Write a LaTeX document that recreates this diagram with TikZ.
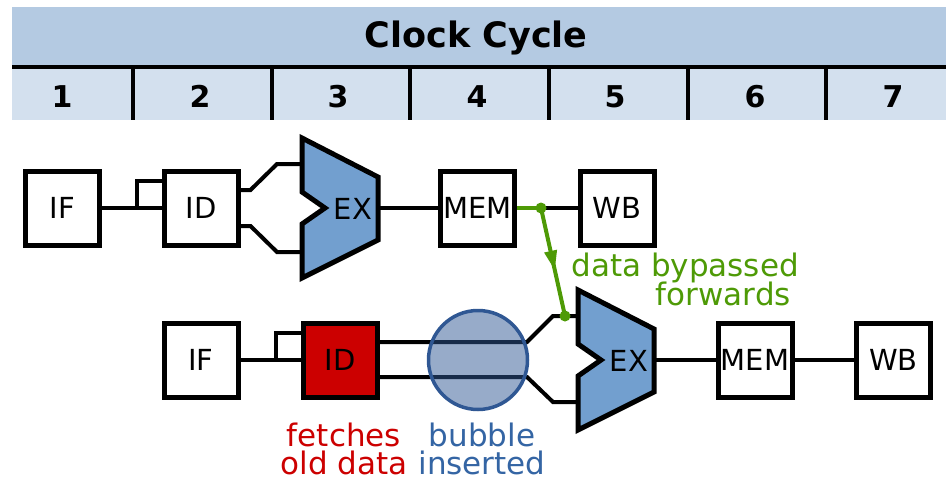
\documentclass[tikz,border=0pt]{standalone}
\usepackage{fontspec}
\setmainfont{DejaVu Sans}
\usetikzlibrary{arrows.meta,decorations.markings,calc}
\definecolor{hdrtop}{HTML}{B4CAE2}
\definecolor{hdrbot}{HTML}{D3E0EE}
\definecolor{exfill}{HTML}{729FCF}
\definecolor{idred}{HTML}{CC0000}
\definecolor{fwdgreen}{HTML}{4E9A06}
\definecolor{bubblue}{HTML}{2F5793}
\definecolor{lblblue}{HTML}{3465A4}
\begin{document}
\begin{tikzpicture}[x=1pt,y=-1pt,
  stagebox/.style={draw, line width=5pt, minimum width=74pt, minimum height=74pt,
    inner sep=0pt, fill=white, font=\fontsize{29}{30}\selectfont},
  wire/.style={line width=4pt},
  exshape/.style={draw, line width=5pt, fill=exfill, line join=miter},
  exlabel/.style={inner sep=0pt, font=\fontsize{29}{30}\selectfont},
  lbl/.style={inner sep=0pt, anchor=base, font=\fontsize{31}{30}\selectfont},
  twolbl/.style={inner sep=0pt, anchor=south, align=center, font=\fontsize{31}{28}\selectfont},
  hdrnum/.style={inner sep=0pt, anchor=base, font=\bfseries\fontsize{30}{30}\selectfont},
  fwddot/.style={fill=fwdgreen},
]
\useasboundingbox (0,0) rectangle (946,480);

% header
\fill[hdrtop] (12,7) rectangle (946,67);
\fill[hdrbot] (12,67) rectangle (946,120);
\draw[line width=4.5pt] (12,67) -- (946,67);
\foreach \x in {133,272,410,549,688,826}
  \draw[line width=4pt] (\x,67) -- (\x,120);
\node[inner sep=0pt, anchor=base, font=\bfseries\fontsize{35}{36}\selectfont] (title) at (476,47) {Clock Cycle};
\foreach \n/\x in {1/62,2/200,3/338,4/477,5/615,6/755,7/893}
  \node[hdrnum] (cyc\n) at (\x,107) {\n};

% row 1
\node[stagebox] (if1) at (62.5,208) {IF};
\node[stagebox] (id1) at (201,208) {ID};
\node[stagebox] (mem1) at (477.5,208) {MEM};
\node[stagebox] (wb1) at (617,208) {WB};
\begin{scope}[shift={(340,208)}]
  \coordinate (ex1in1) at (-38,-44);
  \coordinate (ex1in2) at (-38,44);
  \coordinate (ex1out) at (38,0);
\end{scope}

\draw[wire] (if1.east) -- (id1.west);
\draw[wire] ($(id1.west)+(-25,0)$) -- ++(0,-27) -- ($(id1.west)+(0,-27)$);
\draw[wire] ($(id1.east)+(0,-18)$) -- ++(10,0) -- ($(ex1in1)+(-25,0)$) -- (ex1in1);
\draw[wire] ($(id1.east)+(0,18)$) -- ++(10,0) -- ($(ex1in2)+(-25,0)$) -- (ex1in2);
\draw[wire] (ex1out) -- (mem1.west);

\begin{scope}[shift={(340,208)}]
  \draw[exshape] (-38,-70) -- (38,-31) -- (38,32) -- (-38,70) -- (-38,16) -- (-15,0) -- (-38,-16) -- cycle;
  \node[exlabel] (ex1lbl) at (13,1) {EX};
\end{scope}

\coordinate (fwd1) at (541,208);
\draw[wire, fwdgreen] (mem1.east) -- (fwd1);
\draw[wire] (fwd1) -- (wb1.west);

% row 2
\node[stagebox] (if2) at (201,360) {IF};
\node[stagebox, fill=idred] (id2) at (340,360) {ID};
\node[stagebox] (mem2) at (755,360) {MEM};
\node[stagebox] (wb2) at (893.5,360) {WB};
\coordinate (bubc) at (478,360);
\begin{scope}[shift={(616,360)}]
  \coordinate (ex2in1) at (-38,-44);
  \coordinate (ex2in2) at (-38,42);
  \coordinate (ex2out) at (38,0);
\end{scope}

\draw[wire] (if2.east) -- (id2.west);
\draw[wire] ($(id2.west)+(-25,0)$) -- ++(0,-27) -- ($(id2.west)+(0,-27)$);
\draw[wire] ($(id2.east)+(0,-18)$) -- ($(bubc)+(49,-18)$) -- ($(ex2in1)+(-25,0)$) -- (ex2in1);
\draw[wire] ($(id2.east)+(0,17)$) -- ($(bubc)+(49,17)$) -- ($(ex2in2)+(-25,0)$) -- (ex2in2);
\draw[wire] (ex2out) -- (mem2.west);
\draw[wire] (mem2.east) -- (wb2.west);

\node[circle, draw=bubblue, fill=bubblue, fill opacity=0.5, draw opacity=1, line width=3.5pt,
  minimum size=99pt, inner sep=0pt] (bub) at (bubc) {};

\begin{scope}[shift={(616,360)}]
  \draw[exshape] (-38,-70) -- (38,-31) -- (38,32) -- (-38,70) -- (-38,16) -- (-15,0) -- (-38,-16) -- cycle;
  \node[exlabel] (ex2lbl) at (13,1) {EX};
\end{scope}

% forwarding path
\coordinate (fwd2) at ($(ex2in1)+(-13,0)$);
\draw[wire, fwdgreen, postaction={decorate},
  decoration={markings, mark=at position 0.58 with {\arrow{Triangle[length=20pt,width=12pt]}}}]
  (fwd1) -- (fwd2);
\fill[fwddot] (fwd1) circle (5.5pt);
\fill[fwddot] (fwd2) circle (5.5pt);

% labels
\node[lbl, anchor=base east, text=fwdgreen] (fwdlblA) at (799,276) {data bypassed};
\node[lbl, anchor=base east, text=fwdgreen] (fwdlblB) at (791,305) {forwards};
\node[twolbl, text=idred] (redlbl) at (344,475) {fetches\\old data};
\node[twolbl, text=lblblue] (bluelbl) at (482,475) {bubble\\inserted};
\end{tikzpicture}
\end{document}
